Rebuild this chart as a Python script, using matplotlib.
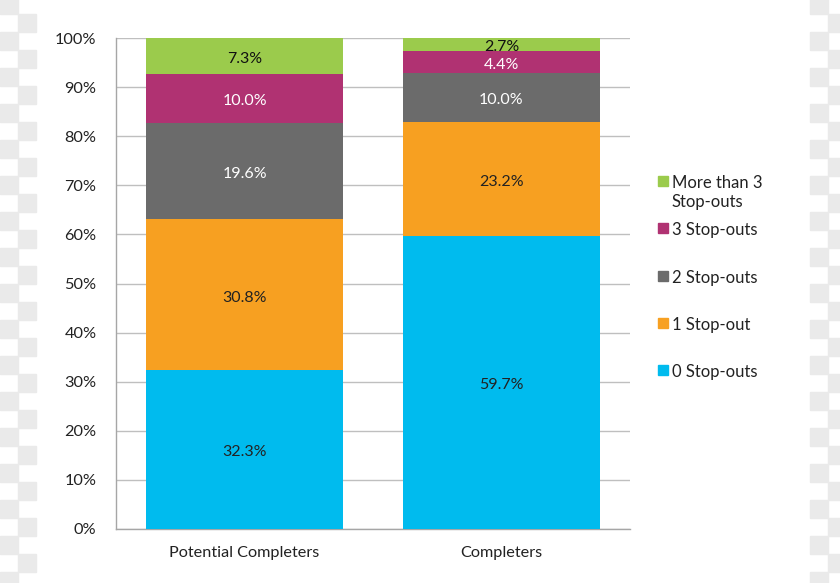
import matplotlib
matplotlib.use("Agg")
import matplotlib.pyplot as plt
from matplotlib.patches import Rectangle
from matplotlib.transforms import offset_copy
import numpy as np

plt.rcParams['font.family'] = ['Lato', 'DejaVu Sans']

categories = ["Potential Completers", "Completers"]
series_names = ["0 Stop-outs", "1 Stop-out", "2 Stop-outs", "3 Stop-outs", "More than 3\nStop-outs"]
values = {
    "0 Stop-outs": [32.3, 59.7],
    "1 Stop-out": [30.8, 23.2],
    "2 Stop-outs": [19.6, 10.0],
    "3 Stop-outs": [10.0, 4.4],
    "More than 3\nStop-outs": [7.3, 2.7],
}
colors = ["#00BBEE", "#F7A021", "#6B6B6B", "#B03272", "#9BCB4C"]
text_colors = ["#222222", "#222222", "white", "white", "#111111"]
yticks = [0, 10, 20, 30, 40, 50, 60, 70, 80, 90, 100]

W, H = 840, 583
fig = plt.figure(figsize=(W/100, H/100), dpi=100)

# checkerboard edges
sq = 18
for x0, x1 in [(0, 36), (810, 846)]:
    for i, xx in enumerate(range(x0, x1, sq)):
        for j, y in enumerate(range(-4, H, sq)):
            if (i + j) % 2 == 0:
                fig.patches.append(Rectangle((xx/W, 1 - (y+sq)/H), sq/W, sq/H,
                                             transform=fig.transFigure,
                                             color="#EAEAEA", zorder=0))

ax = fig.add_axes([116/W, 1 - 529/H, (630-116)/W, (529-38)/H])
ax.set_facecolor("none")
x = np.arange(len(categories))
width = 0.767
bottom = np.zeros(len(categories))
lbl_tr = offset_copy(ax.transData, fig=fig, x=0, y=-2, units="points")
for name, c, tc in zip(series_names, colors, text_colors):
    v = np.array(values[name])
    ax.bar(x, v, width, bottom=bottom, color=c, zorder=3, label=name)
    for xi, vi, bi in zip(x, v, bottom):
        ax.text(xi, bi + vi/2, f"{vi:.1f}%", ha="center", va="center",
                color=tc, fontsize=11.5, zorder=4, transform=lbl_tr)
    bottom += v

ax.set_xlim(-0.5, 1.5)
ax.set_ylim(0, 100)
ax.set_yticks(yticks)
ax.set_yticklabels([f"{t}%" for t in yticks], fontsize=11.7, color="#222222")
ax.set_xticks(x)
ax.set_xticklabels(categories, fontsize=11.7, color="#222222")
ax.tick_params(axis="y", length=0, pad=14)
ax.tick_params(axis="x", length=0, pad=12)
ax.grid(axis="y", color="#BFBFBF", linewidth=1, zorder=0)
for s in ["top", "right"]:
    ax.spines[s].set_visible(False)
for s in ["left", "bottom"]:
    ax.spines[s].set_color("#A6A6A6")
    ax.spines[s].set_linewidth(1)

# legend (drawn manually, top entry first)
leg_y = [181, 228, 276, 323, 370]
for name, c, ly in zip(series_names[::-1], colors[::-1], leg_y):
    fig.patches.append(Rectangle((658/W, 1 - (ly + 5)/H), 10/W, 10/H,
                                 transform=fig.transFigure, color=c, zorder=3))
    fig.text(672/W, 1 - (ly - 6)/H, name, ha="left", va="top",
             fontsize=12, color="#222222", linespacing=1.25)

fig.savefig("out.png", dpi=100)
